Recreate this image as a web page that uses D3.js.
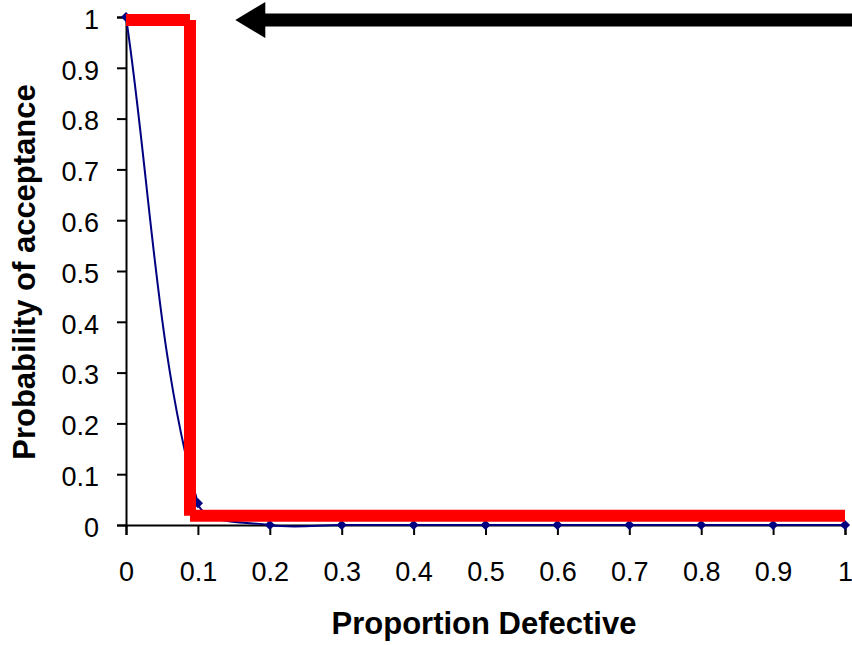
<!DOCTYPE html>
<html>
<head>
<meta charset="utf-8">
<script src="https://cdn.jsdelivr.net/npm/d3@7"></script>
<style>
  body { margin: 0; background: #fff; }
  text { font-family: "Liberation Sans", Arial, sans-serif; }
</style>
</head>
<body>
<svg width="852" height="645"></svg>
<script>
// proportion defective vs probability of acceptance (OC curve)
var proportions = [0, 0.1, 0.2, 0.3, 0.4, 0.5, 0.6, 0.7, 0.8, 0.9, 1];
var acceptance = [1, 0.043, 0, 0, 0, 0, 0, 0, 0, 0, 0];

// ideal step curve (red)
var idealX = [0, 0.089, 0.089, 1];
var idealY = [0.994, 0.994, 0.018, 0.018];

// arrow along the top, in data units
var arrowFrom = 1.01, arrowTo = 0.152, arrowLevel = 0.994;

var xTicks = [0, 0.1, 0.2, 0.3, 0.4, 0.5, 0.6, 0.7, 0.8, 0.9, 1];
var yTicks = [0, 0.1, 0.2, 0.3, 0.4, 0.5, 0.6, 0.7, 0.8, 0.9, 1];

var svg = d3.select("svg"),
    margin = {top: 17, right: 7, bottom: 120, left: 126},
    width = +svg.attr("width") - margin.left - margin.right,
    height = +svg.attr("height") - margin.top - margin.bottom;

var x = d3.scaleLinear().domain([0, 1]).range([0, width]);
var y = d3.scaleLinear().domain([0, 1]).range([height, 0]);

var g = svg.append("g")
    .attr("transform", "translate(" + margin.left + "," + margin.top + ")");

var fmt = function (d) { return d === 0 || d === 1 ? d : d3.format(".1f")(d); };

var xAxis = g.append("g")
    .attr("transform", "translate(0," + height + ")")
    .call(d3.axisBottom(x).tickValues(xTicks).tickFormat(fmt).tickSize(10));

var yAxis = g.append("g")
    .call(d3.axisLeft(y).tickValues(yTicks).tickFormat(fmt).tickSize(9).tickPadding(18));

[xAxis, yAxis].forEach(function (a) {
    a.select(".domain").attr("stroke", "#000").attr("stroke-width", 2);
    a.selectAll(".tick line").attr("stroke", "#000").attr("stroke-width", 2);
    a.selectAll(".tick text")
        .attr("fill", "#000")
        .style("font-size", "27px")
        .style("font-family", "'Liberation Sans', Arial, sans-serif");
});
xAxis.selectAll(".tick text").attr("y", 56).attr("dy", 0);
yAxis.selectAll(".tick text").attr("dy", "0.42em");

// spreadsheet-style smoothing: tangent through neighbours, weighted by segment length
function curveSmooth(context) {
    var pts;
    return {
        areaStart: function () {}, areaEnd: function () {},
        lineStart: function () { pts = []; },
        point: function (px, py) { pts.push([+px, +py]); },
        lineEnd: function () {
            var n = pts.length;
            if (!n) return;
            context.moveTo(pts[0][0], pts[0][1]);
            var dist = function (a, b) { return Math.hypot(b[0] - a[0], b[1] - a[1]); };
            var ctrl = function (i, side) {
                var p = pts[i];
                var prev = pts[Math.max(i - 1, 0)], next = pts[Math.min(i + 1, n - 1)];
                var dx = next[0] - prev[0], dy = next[1] - prev[1];
                var d1 = dist(prev, p), d2 = dist(p, next), tot = d1 + d2 || 1;
                var f = (side > 0 ? d2 : d1) / tot / 3;
                if (i === 0 || i === n - 1) f = 1 / 3;
                return [p[0] + side * dx * f, p[1] + side * dy * f];
            };
            for (var i = 0; i < n - 1; i++) {
                var c1 = ctrl(i, 1), c2 = ctrl(i + 1, -1);
                context.bezierCurveTo(c1[0], c1[1], c2[0], c2[1], pts[i + 1][0], pts[i + 1][1]);
            }
        }
    };
}

// smoothed blue line with diamond markers
var pts = proportions.map(function (p, i) { return [p, acceptance[i]]; });
var line = d3.line()
    .x(function (d) { return x(d[0]); })
    .y(function (d) { return y(d[1]); })
    .curve(curveSmooth);

g.append("path")
    .datum(pts)
    .attr("fill", "none")
    .attr("stroke", "#000080")
    .attr("stroke-width", 2)
    .attr("d", line);

g.selectAll(".marker")
    .data(pts)
    .enter().append("path")
    .attr("class", "marker")
    .attr("d", d3.symbol().type(d3.symbolSquare).size(52))
    .attr("fill", "#000080")
    .attr("transform", function (d) {
        return "translate(" + x(d[0]) + "," + y(d[1]) + ") rotate(45)";
    });

// red step line, drawn as separate segments with butt ends
var segs = d3.range(idealX.length - 1).map(function (i) {
    return [[idealX[i], idealY[i]], [idealX[i + 1], idealY[i + 1]]];
});
g.selectAll(".ideal")
    .data(segs)
    .enter().append("line")
    .attr("class", "ideal")
    .attr("x1", function (d) { return x(d[0][0]); })
    .attr("y1", function (d) { return y(d[0][1]); })
    .attr("x2", function (d) { return x(d[1][0]); })
    .attr("y2", function (d) { return y(d[1][1]); })
    .attr("stroke", "#ff0000")
    .attr("stroke-width", 12);

// arrow
var ay = y(arrowLevel);
g.append("line")
    .attr("x1", x(arrowFrom)).attr("y1", ay)
    .attr("x2", x(arrowTo) + 28).attr("y2", ay)
    .attr("stroke", "#000")
    .attr("stroke-width", 13);
g.append("path")
    .attr("d", "M" + x(arrowTo) + "," + ay + "L" + (x(arrowTo) + 30) + "," + (ay - 18) +
        "L" + (x(arrowTo) + 30) + "," + (ay + 18) + "Z")
    .attr("fill", "#000");

// axis titles
svg.append("text")
    .attr("x", 484)
    .attr("y", 634)
    .attr("text-anchor", "middle")
    .style("font-size", "31px")
    .style("font-weight", "bold")
    .text("Proportion Defective");

svg.append("text")
    .attr("transform", "translate(35," + 272 + ") rotate(-90)")
    .attr("text-anchor", "middle")
    .style("font-size", "31px")
    .style("font-weight", "bold")
    .text("Probability of acceptance");
</script>
</body>
</html>
